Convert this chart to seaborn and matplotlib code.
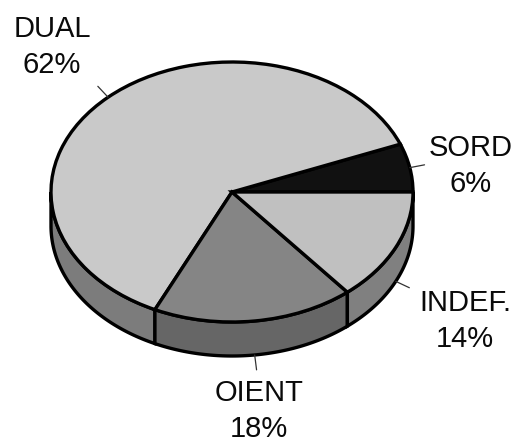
import numpy as np
import matplotlib
matplotlib.use('Agg')
import matplotlib.pyplot as plt
import seaborn as sns

# pie data (percent), drawn counter-clockwise from 3 o'clock
labels = ['SORD', 'DUAL', 'OIENT', 'INDEF.']
shares = [6, 62, 18, 14]

top_colors = ['#111111', '#c9c9c9', '#858585', '#c0c0c0']
side_colors = ['#0a0a0a', '#7c7c7c', '#666666', '#808080']

sns.set_theme(style='white')
plt.rcParams['font.family'] = ['Liberation Sans', 'DejaVu Sans']

W, H = 520, 443
cx, cy = 232, 192      # pie centre, pixels from top-left
rx, ry = 181, 130      # pixel radius of the ellipse
depth = 34 / ry        # thickness of the disc in data units

fig = plt.figure(figsize=(W / 100, H / 100), dpi=100)
ax = fig.add_axes([0, 0, 1, 1])

wedges, _ = ax.pie(shares, startangle=0, counterclock=True, colors=top_colors,
                   radius=1, wedgeprops=dict(edgecolor='black', linewidth=2.4))
for w in wedges:
    w.set_zorder(3)

ax.set_aspect('auto')
ax.set_xlim(-cx / rx, (W - cx) / rx)
ax.set_ylim(-(H - cy) / ry, cy / ry)
ax.axis('off')

# the disc's side, only for the front half
bounds = np.concatenate([[0], np.cumsum(shares)]) / np.sum(shares) * 360
for i, col in enumerate(side_colors):
    lo, hi = max(bounds[i], 180), min(bounds[i + 1], 360)
    if lo >= hi:
        continue
    t = np.radians(np.linspace(lo, hi, 80))
    xs = np.concatenate([np.cos(t), np.cos(t[::-1])])
    ys = np.concatenate([np.sin(t), np.sin(t[::-1]) - depth])
    ax.fill(xs, ys, facecolor=col, edgecolor='black', linewidth=2.4, zorder=2)

# leader lines at the middle of each slice
mids = (bounds[:-1] + bounds[1:]) / 2
for m in mids:
    a = np.radians(m)
    x0, y0 = np.cos(a), np.sin(a)
    if 180 < m < 360:
        y0 -= depth
    x1 = x0 + 15 / rx * np.cos(a)
    y1 = y0 + 15 / ry * np.sin(a)
    ax.plot([x0, x1], [y0, y1], color='#333333', linewidth=0.9, zorder=4)

# label placement in pixels (centre of the two-line block)
label_pos = [(471, 166), (52, 47), (259, 411), (465, 321)]
for name, val, (px, py) in zip(labels, shares, label_pos):
    ax.text(px / W, 1 - py / H, f'{name}\n{val}%', transform=ax.transAxes,
            ha='center', va='center', fontsize=21, linespacing=1.38,
            color='#0a0a0a')

fig.savefig('out.png', dpi=100, facecolor='white')
